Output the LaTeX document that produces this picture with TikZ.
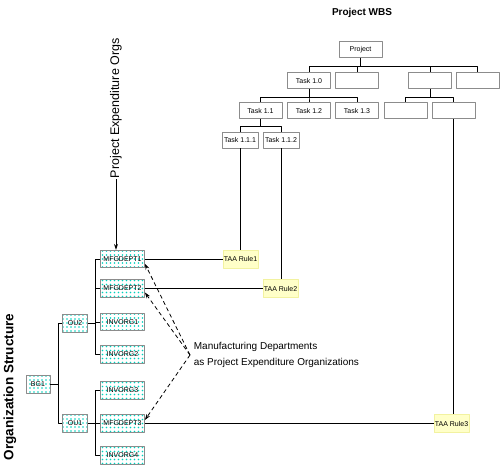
\documentclass[tikz,border=0pt]{standalone}
\usepackage{fontspec}
\setmainfont{Liberation Sans}
\usetikzlibrary{arrows.meta}
\definecolor{boxgray}{gray}{0.55}
\definecolor{rulefill}{RGB}{255,255,200}
\definecolor{ruledraw}{RGB}{242,242,160}
\definecolor{dotcyan}{RGB}{0,210,190}

\begin{document}
\begin{tikzpicture}[x=1pt,y=-1pt,line join=round,line width=0.8pt,>=Stealth,
		every node/.style={inner sep=0.5pt},
		tiny/.style={font=\fontsize{7}{8}\selectfont},
		wbs/.style={tiny,draw=boxgray,fill=white,minimum width=43pt,minimum height=16pt},
		wbssm/.style={wbs,minimum width=36pt},
		org/.style={tiny,draw=boxgray,minimum width=44pt,minimum height=17.5pt,
			path picture={\foreach \i in {-6,...,6} \foreach \j in {-2,...,2}
				\fill[dotcyan] ([xshift=\i*4pt,yshift=\j*4pt]path picture bounding box.center) circle (0.8pt);}},
		unit/.style={org,minimum width=25pt,minimum height=18pt},
		taarule/.style={tiny,fill=rulefill,draw=ruledraw,minimum width=35pt,minimum height=18pt},
		dashlink/.style={dash pattern=on 4pt off 3pt,-{Stealth[length=6pt,width=4pt]}}]
	\useasboundingbox (0,0) rectangle (500,466);
	
	% project wbs
	\node[font=\bfseries\fontsize{10}{12}\selectfont] (wbstitle) at (362,13) {Project WBS};
	
	\node[wbs] (proj) at (360.5,49.5) {Project};
	
	\node[wbs] (t10) at (309,80.5) {Task 1.0};
	\node[wbs] (w2) at (357,80.5) {};
	\node[wbs] (w3) at (430,80.5) {};
	\node[wbs] (w4) at (477.5,80.5) {};
	
	\node[wbs] (t11) at (260.5,110.5) {Task 1.1};
	\node[wbs] (t12) at (309,110.5) {Task 1.2};
	\node[wbs] (t13) at (357,110.5) {Task 1.3};
	\node[wbs] (w5) at (405.5,110.5) {};
	\node[wbs] (w6) at (453.5,110.5) {};
	
	\node[wbssm] (t111) at (240,140) {Task 1.1.1};
	\node[wbssm] (t112) at (281,140) {Task 1.1.2};
	
	\foreach \c in {t10,w2,w3,w4}
		\draw (proj.south) -- ++(0,8) -| (\c.north);
	\foreach \c in {t11,t12,t13}
		\draw (t10.south) -- ++(0,8.5) -| (\c.north);
	\foreach \c in {w5,w6}
		\draw (w3.south) -- ++(0,8.5) -| (\c.north);
	\foreach \c in {t111,t112}
		\draw (t11.south) -- ++(0,7) -| (\c.north);
	
	% transaction rules
	\node[taarule] (r1) at (240.5,259) {TAA Rule1};
	\node[taarule] (r2) at (280.5,288.5) {TAA Rule2};
	\node[taarule] (r3) at (451.5,423.5) {TAA Rule3};
	
	\draw (t111.south) -- (t111.south |- r1.north);
	\draw (t112.south) -- (t112.south |- r2.north);
	\draw (w6.south) -- (w6.south |- r3.north);
	
	% organization structure
	\node[rotate=90,font=\bfseries\fontsize{13.5}{16}\selectfont] (orgs) at (10,387) {Organization Structure};
	
	\node[unit,minimum width=24pt] (bg1) at (38,384) {BG1};
	\node[unit] (ou2) at (75,323) {OU2};
	\node[unit] (ou1) at (75,423) {OU1};
	
	\node[org] (mfg1) at (122.5,259) {MFGDEPT1};
	\node[org] (mfg2) at (122.5,288.5) {MFGDEPT2};
	\node[org] (inv1) at (122.5,322) {INVORG1};
	\node[org] (inv2) at (122.5,354.5) {INVORG2};
	\node[org] (inv3) at (122.5,390.5) {INVORG3};
	\node[org] (mfg3) at (122.5,423.5) {MFGDEPT3};
	\node[org] (inv4) at (122.5,455.5) {INVORG4};
	
	\draw (bg1.east) -- ++(8,0);
	\draw (ou2.west) -- ++(-4,0) |- (ou1.west);
	\draw (ou2.east) -- ++(8,0);
	\draw (ou1.east) -- ++(8,0);
	\draw (mfg1.west) -- ++(-4.5,0) |- (inv2.west);
	\foreach \o in {mfg2,inv1}
		\draw (\o.west) -- ++(-4.5,0);
	\draw (inv3.west) -- ++(-4.5,0) |- (inv4.west);
	\draw (mfg3.west) -- ++(-4.5,0);
	
	\draw (mfg1.east) -- (r1.west);
	\draw (mfg2.east) -- (r2.west);
	\draw (mfg3.east) -- (r3.west);
	
	% expenditure orgs
	\node[rotate=90,anchor=west,font=\fontsize{12.5}{14}\selectfont] (pexp) at (116,179) {Project Expenditure Orgs};
	\draw[-{Stealth[length=6pt,width=4pt]}] (pexp.west) -- (pexp.west |- mfg1.north);
	
	\coordinate (meet) at (190,355);
	\node[anchor=west,align=left,font=\fontsize{10}{16}\selectfont] (note) at (193,355) {Manufacturing Departments\\as Project Expenditure Organizations};
	\draw[dashlink] (meet) -- (mfg1.-12);
	\draw[dashlink] (meet) -- (mfg2.-10);
	\draw[dashlink] (meet) -- (mfg3.9);
\end{tikzpicture}
\end{document}
